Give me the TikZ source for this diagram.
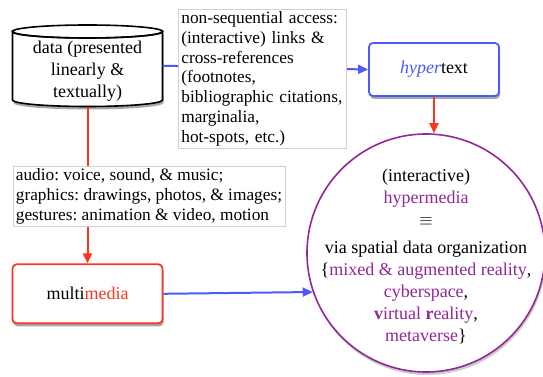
\documentclass[tikz,border=0pt]{standalone}
\usepackage{fontspec}
\newfontfamily\timesf{Liberation Serif}
\usetikzlibrary{arrows.meta,shadows}
\definecolor{myred}{RGB}{250,55,30}
\definecolor{myblue}{RGB}{75,90,250}
\definecolor{mypurple}{RGB}{145,40,150}
\newcommand{\palfont}{\timesf\frenchspacing\fontsize{18}{22}\selectfont}
\newcommand{\timesfont}{\timesf\frenchspacing\fontsize{17.3}{19.7}\selectfont}
\begin{document}
\begin{tikzpicture}[x=1pt,y=1pt,
  shad/.style={drop shadow={shadow xshift=1pt,shadow yshift=-3pt,opacity=0.35,fill=black}},
  mbox/.style={rounded corners=4pt,line width=1.8pt,fill=white,shad,font=\palfont,
     minimum width=150pt,minimum height=59pt,inner sep=0pt},
  lbl/.style={draw=black!18,line width=0.7pt,fill=white,align=left,anchor=north west,
     font=\timesfont,inner xsep=3pt,inner ysep=2.5pt},
  redarr/.style={draw=myred,line width=2pt,-{Triangle[length=10pt,width=9pt]}},
  bluearr/.style={draw=myblue,line width=2pt,-{Triangle[length=10pt,width=9pt]}}
]
\useasboundingbox (0,0) rectangle (543,-377);
% cylinder
\path[draw=black,line width=1.6pt,fill=white,shad]
  (12.5,-31.5) -- (12.5,-100) arc[start angle=180,end angle=360,x radius=75pt,y radius=6.5pt]
  -- (162.5,-31.5) arc[start angle=0,end angle=-180,x radius=75pt,y radius=6.5pt] -- cycle;
\draw[line width=1.6pt] (87.5,-31.5) ellipse[x radius=75pt,y radius=6.5pt];
\node[minimum width=150pt,minimum height=81.5pt,inner sep=0pt] (data) at (87.5,-65.75) {};
\node[align=center,font=\palfont,inner sep=0pt] (datatext) at (87.5,-71) {data (presented\\linearly \&\\textually)};
% hypertext
\node[mbox,draw=myblue,minimum width=130pt,minimum height=53pt] (hyper) at (434,-69.5)
  {\textcolor{myblue}{\itshape hyper}text};
% multimedia
\node[mbox,draw=myred] (mm) at (87.5,-293.8) {multi\textcolor{myred}{media}};
% circle
\node[circle,draw=mypurple,line width=1.6pt,fill=white,minimum size=238pt,inner sep=0pt,
  drop shadow={shadow xshift=1pt,shadow yshift=-3pt,opacity=0.2,fill=black}] (circ) at (426,-253) {};
\node[align=center,font=\palfont,inner sep=0pt] (circtext) at (426,-256)
  {(interactive)\\
   \textcolor{mypurple}{hypermedia}\\
   $\equiv$\\[6pt]
   via spatial data organization\\
   \{\textcolor{mypurple}{mixed \& augmented reality},\\
   \textcolor{mypurple}{cyberspace},\\
   \textcolor{mypurple}{\textbf{v}irtual \textbf{r}eality},\\
   \textcolor{mypurple}{metaverse}\}};
% connectors
\draw[bluearr] (data.east) -- (hyper.west);
\draw[redarr] (hyper.south) -- (hyper.south |- circ.north);
\draw[redarr] (data.south) -- (mm.north);
\draw[bluearr] (mm.east) -- (circ.199);
% labels
\node[lbl,text width=162pt] (lab1) at (178,-9)
  {non-sequential access:\\(interactive) links \&\\cross-references\\(footnotes,\\bibliographic citations,\\marginalia,\\hot-spots, etc.)};
\node[lbl] (lab2) at (12.5,-166)
  {audio: voice, sound, \& music;\\graphics: drawings, photos, \& images;\\gestures: animation \& video, motion};
\end{tikzpicture}
\end{document}
